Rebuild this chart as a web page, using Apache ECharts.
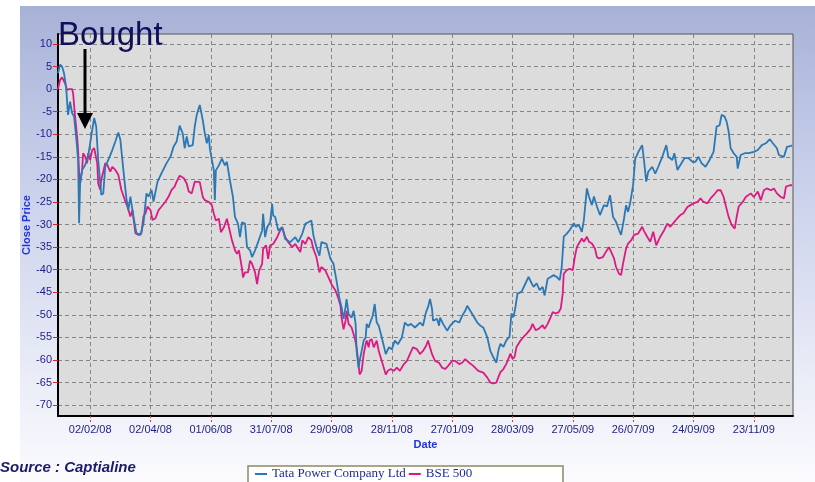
<!DOCTYPE html>
<html>
<head>
<meta charset="utf-8">
<script src="https://cdn.jsdelivr.net/npm/echarts@6/dist/echarts.min.js"></script>
<style>
  html, body { margin: 0; padding: 0; background: #fff; }
  #chart { width: 815px; height: 482px; }
</style>
</head>
<body>
<div id="chart"></div>
<script>
// Tata Power Company Ltd, % change of close price
const tataDates = [
  '2008-01-01','2008-01-03','2008-01-05','2008-01-07','2008-01-09','2008-01-11','2008-01-13','2008-01-15','2008-01-17','2008-01-19',
  '2008-01-21','2008-01-22','2008-01-23','2008-01-25','2008-01-28','2008-01-31','2008-02-03','2008-02-06','2008-02-08','2008-02-10',
  '2008-02-13','2008-02-15','2008-02-17','2008-02-20','2008-02-24','2008-02-27','2008-03-01','2008-03-03','2008-03-06','2008-03-09',
  '2008-03-11','2008-03-13','2008-03-16','2008-03-19','2008-03-23','2008-03-26','2008-03-29','2008-03-31','2008-04-03','2008-04-05',
  '2008-04-09','2008-04-13','2008-04-18','2008-04-22','2008-04-25','2008-04-28','2008-05-01','2008-05-04','2008-05-06','2008-05-08',
  '2008-05-10','2008-05-14','2008-05-16','2008-05-18','2008-05-21','2008-05-24','2008-05-26','2008-05-28','2008-05-30','2008-05-31',
  '2008-06-04','2008-06-05','2008-06-06','2008-06-09','2008-06-12','2008-06-15','2008-06-17','2008-06-20','2008-06-23','2008-06-25',
  '2008-06-28','2008-06-30','2008-07-02','2008-07-05','2008-07-07','2008-07-10','2008-07-12','2008-07-15','2008-07-18','2008-07-22',
  '2008-07-23','2008-07-25','2008-07-27','2008-07-30','2008-08-01','2008-08-02','2008-08-04','2008-08-07','2008-08-11','2008-08-14',
  '2008-08-19','2008-08-24','2008-08-27','2008-08-31','2008-09-03','2008-09-06','2008-09-09','2008-09-11','2008-09-14','2008-09-17',
  '2008-09-19','2008-09-24','2008-09-28','2008-10-01','2008-10-04','2008-10-07','2008-10-09','2008-10-11','2008-10-13','2008-10-14',
  '2008-10-16','2008-10-19','2008-10-21','2008-10-23','2008-10-24','2008-10-26','2008-10-27','2008-10-29','2008-10-31','2008-11-02',
  '2008-11-03','2008-11-05','2008-11-06','2008-11-09','2008-11-11','2008-11-13','2008-11-15','2008-11-18','2008-11-22','2008-11-25',
  '2008-11-28','2008-12-01','2008-12-04','2008-12-08','2008-12-11','2008-12-14','2008-12-17','2008-12-21','2008-12-26','2008-12-29',
  '2009-01-01','2009-01-03','2009-01-05','2009-01-07','2009-01-08','2009-01-12','2009-01-14','2009-01-15','2009-01-18','2009-01-22',
  '2009-01-25','2009-01-30','2009-02-03','2009-02-06','2009-02-09','2009-02-11','2009-02-14','2009-02-17','2009-02-21','2009-02-24',
  '2009-02-27','2009-03-03','2009-03-06','2009-03-09','2009-03-12','2009-03-14','2009-03-16','2009-03-19','2009-03-22','2009-03-25',
  '2009-03-27','2009-03-29','2009-03-31','2009-04-02','2009-04-06','2009-04-10','2009-04-13','2009-04-16','2009-04-18','2009-04-21',
  '2009-04-24','2009-04-27','2009-04-29','2009-05-02','2009-05-05','2009-05-08','2009-05-11','2009-05-14','2009-05-16','2009-05-18',
  '2009-05-21','2009-05-24','2009-05-28','2009-05-30','2009-06-02','2009-06-05','2009-06-07','2009-06-10','2009-06-12','2009-06-15',
  '2009-06-17','2009-06-20','2009-06-23','2009-06-27','2009-06-30','2009-07-03','2009-07-06','2009-07-09','2009-07-12','2009-07-14',
  '2009-07-17','2009-07-19','2009-07-21','2009-07-23','2009-07-26','2009-07-28','2009-07-31','2009-08-04','2009-08-06','2009-08-08',
  '2009-08-10','2009-08-14','2009-08-17','2009-08-20','2009-08-24','2009-08-28','2009-08-30','2009-09-03','2009-09-05','2009-09-08',
  '2009-09-11','2009-09-15','2009-09-19','2009-09-23','2009-09-26','2009-09-29','2009-10-02','2009-10-06','2009-10-10','2009-10-14',
  '2009-10-17','2009-10-20','2009-10-22','2009-10-25','2009-10-27','2009-10-29','2009-10-31','2009-11-03','2009-11-06','2009-11-07',
  '2009-11-10','2009-11-14','2009-11-18','2009-11-23','2009-11-27','2009-12-01','2009-12-05','2009-12-09','2009-12-12','2009-12-16',
  '2009-12-18','2009-12-23','2009-12-26','2009-12-30','2009-12-31'
];
const tataValues = [
  3.5, 5.4, 5.0, 3.5, 0.6, -5.7, -2.8, -5.3, -6.1, -10.5,
  -15.7, -29.7, -20.8, -17.9, -16.8, -14.9, -10.5, -6.4, -8.3, -15.7,
  -23.4, -23.1, -17.2, -15.7, -13.5, -11.6, -9.6, -11.2, -17.9, -24.2,
  -26.8, -23.8, -28.2, -31.9, -32.3, -29.7, -23.1, -23.8, -22.3, -24.9,
  -20.5, -18.6, -16.4, -14.9, -12.7, -11.6, -8.1, -9.8, -13.1, -10.5,
  -12.7, -12.4, -8.3, -5.7, -3.5, -6.9, -9.8, -12.0, -10.2, -13.2,
  -18, -24.6, -18, -16.9, -15.4, -16.9, -16.1, -20.2, -23.9, -28.3,
  -29.8, -32.8, -29.5, -29.8, -35, -35.7, -37.2, -35.7, -33.9, -31.3,
  -27.6, -32.8, -30.6, -29.5, -25.4, -28, -28.3, -31.3, -30.6, -33.2,
  -33.9, -32.8, -33.9, -32, -29.8, -29.5, -29.1, -32.4, -35, -36.9,
  -33.9, -34.3, -37.6, -38.7, -42.4, -46.5, -48.3, -50.9, -48.3, -46.5,
  -49.8, -50.6, -49.1, -52, -58, -61.7, -60.2, -58, -55.7, -55,
  -52, -52.8, -52, -50.2, -47.6, -51.7, -52.4, -55, -58.7, -57.2,
  -57.6, -55.7, -56.5, -55, -51.7, -52.4, -52, -52.8, -51.7, -52.4,
  -49.4, -48.3, -46.5, -48.7, -51.3, -50.9, -52.4, -50.6, -52, -53.5,
  -52.4, -51.3, -51.7, -50.2, -49.1, -48, -49.1, -50.2, -51.7, -52.4,
  -52.8, -55, -58, -59.4, -60.6, -57.9, -56.4, -57.1, -55.6, -54.9,
  -49.7, -50.5, -48.2, -45.3, -44.9, -43, -41.6, -43, -43.8, -43,
  -44.5, -43.8, -45.7, -42, -41.6, -41.2, -41.6, -42.3, -39.4, -32.7,
  -32, -31.2, -29.7, -30.5, -30.1, -31.6, -29, -22, -23.8, -25.7,
  -23.8, -26, -27.9, -25.7, -26, -23.5, -28.3, -29.4, -31.2, -32.3,
  -28.6, -25.7, -27.2, -25.3, -21.2, -15.5, -14, -12.4, -16.1, -20.5,
  -18.3, -17.2, -18.7, -17.2, -15, -12.4, -15, -15.7, -14.2, -17.9,
  -16.8, -15.3, -15.3, -16.1, -16.1, -15, -16.4, -17.2, -15.7, -13.9,
  -8.3, -8, -5.7, -6.1, -7.2, -9.4, -13.1, -14.2, -15, -17.6,
  -14.6, -14.2, -14.2, -13.9, -13.5, -12.4, -12, -11.1, -12, -13.1,
  -14.6, -15, -12.8, -12.6, -12.4
];

// BSE 500
const bseDates = [
  '2008-01-01','2008-01-03','2008-01-05','2008-01-08','2008-01-10','2008-01-12','2008-01-15','2008-01-16','2008-01-18','2008-01-20',
  '2008-01-21','2008-01-22','2008-01-23','2008-01-25','2008-01-26','2008-01-28','2008-01-30','2008-01-31','2008-02-02','2008-02-04',
  '2008-02-06','2008-02-09','2008-02-10','2008-02-12','2008-02-13','2008-02-15','2008-02-17','2008-02-19','2008-02-22','2008-02-24',
  '2008-02-27','2008-03-01','2008-03-04','2008-03-08','2008-03-10','2008-03-13','2008-03-15','2008-03-18','2008-03-21','2008-03-24',
  '2008-03-26','2008-03-28','2008-03-30','2008-04-02','2008-04-04','2008-04-07','2008-04-10','2008-04-13','2008-04-17','2008-04-20',
  '2008-04-23','2008-04-26','2008-04-28','2008-05-01','2008-05-05','2008-05-08','2008-05-10','2008-05-13','2008-05-16','2008-05-21',
  '2008-05-24','2008-05-26','2008-05-30','2008-06-02','2008-06-04','2008-06-06','2008-06-09','2008-06-11','2008-06-14','2008-06-17',
  '2008-06-19','2008-06-22','2008-06-25','2008-06-27','2008-06-29','2008-07-02','2008-07-03','2008-07-05','2008-07-08','2008-07-10',
  '2008-07-12','2008-07-15','2008-07-17','2008-07-19','2008-07-22','2008-07-23','2008-07-26','2008-07-28','2008-07-30','2008-08-02',
  '2008-08-06','2008-08-09','2008-08-11','2008-08-14','2008-08-17','2008-08-21','2008-08-24','2008-08-27','2008-08-29','2008-08-31',
  '2008-09-03','2008-09-06','2008-09-09','2008-09-11','2008-09-14','2008-09-17','2008-09-19','2008-09-23','2008-09-26','2008-09-29',
  '2008-10-03','2008-10-06','2008-10-08','2008-10-09','2008-10-11','2008-10-13','2008-10-14','2008-10-16','2008-10-19','2008-10-22',
  '2008-10-24','2008-10-26','2008-10-27','2008-10-29','2008-10-31','2008-11-02','2008-11-03','2008-11-05','2008-11-06','2008-11-08',
  '2008-11-10','2008-11-13','2008-11-15','2008-11-18','2008-11-22','2008-11-24','2008-11-27','2008-11-30','2008-12-03','2008-12-06',
  '2008-12-10','2008-12-13','2008-12-16','2008-12-19','2008-12-23','2008-12-26','2008-12-29','2009-01-01','2009-01-03','2009-01-07',
  '2009-01-10','2009-01-14','2009-01-17','2009-01-20','2009-01-23','2009-01-27','2009-01-30','2009-02-03','2009-02-06','2009-02-09',
  '2009-02-13','2009-02-17','2009-02-22','2009-02-27','2009-03-03','2009-03-06','2009-03-09','2009-03-12','2009-03-14','2009-03-16',
  '2009-03-19','2009-03-22','2009-03-26','2009-03-28','2009-03-30','2009-04-01','2009-04-05','2009-04-08','2009-04-11','2009-04-15',
  '2009-04-17','2009-04-20','2009-04-23','2009-04-27','2009-04-29','2009-05-02','2009-05-05','2009-05-07','2009-05-10','2009-05-13',
  '2009-05-15','2009-05-17','2009-05-18','2009-05-21','2009-05-24','2009-05-27','2009-05-29','2009-05-31','2009-06-02','2009-06-05',
  '2009-06-07','2009-06-10','2009-06-12','2009-06-15','2009-06-18','2009-06-20','2009-06-22','2009-06-26','2009-06-29','2009-07-02',
  '2009-07-04','2009-07-07','2009-07-09','2009-07-12','2009-07-14','2009-07-16','2009-07-19','2009-07-21','2009-07-24','2009-07-27',
  '2009-07-31','2009-08-04','2009-08-06','2009-08-09','2009-08-12','2009-08-15','2009-08-18','2009-08-22','2009-08-26','2009-08-29',
  '2009-09-01','2009-09-05','2009-09-08','2009-09-11','2009-09-14','2009-09-18','2009-09-21','2009-09-24','2009-09-28','2009-10-01',
  '2009-10-04','2009-10-08','2009-10-11','2009-10-14','2009-10-18','2009-10-21','2009-10-24','2009-10-26','2009-10-29','2009-11-01',
  '2009-11-04','2009-11-06','2009-11-08','2009-11-12','2009-11-15','2009-11-20','2009-11-23','2009-11-27','2009-11-30','2009-12-03',
  '2009-12-06','2009-12-10','2009-12-13','2009-12-16','2009-12-20','2009-12-23','2009-12-25','2009-12-29','2009-12-31'
];
const bseValues = [
  0, 2, 2.6, 1.3, -0.2, 0, 0, -0.9, -6.1, -10.5,
  -13.5, -18.6, -20.9, -17.9, -14.2, -14.9, -16.4, -14.2, -15.7, -13.5,
  -13.1, -16.4, -20.9, -22.3, -20.1, -18.3, -16.4, -16.8, -18.3, -17.2,
  -17.9, -19, -22.3, -24.9, -26, -28.2, -26.8, -31.9, -32.3, -31.9,
  -28.2, -27.5, -26, -26.8, -29, -28.6, -26.8, -26, -24.9, -23.8,
  -22.3, -21.6, -20.5, -19.2, -19.7, -20.9, -22.7, -23.1, -20.5, -20.6,
  -23.9, -24.6, -25, -25.7, -27.6, -29.1, -28.7, -31.7, -30.6, -28.7,
  -30.6, -33.5, -35.7, -36.5, -35.7, -39.8, -41.7, -40.6, -40.6, -38,
  -38.7, -40.6, -43.2, -40.2, -38.7, -35.4, -34.6, -37.6, -34.6, -34.3,
  -32.8, -31.3, -30.6, -32.8, -33.9, -35, -34.3, -35.4, -36.1, -33.5,
  -34.3, -32.8, -33.5, -35.4, -37.2, -40.6, -39.4, -40.2, -41.7, -43.2,
  -44.6, -46.5, -48, -50.6, -53.2, -51.3, -49.1, -52, -52.8, -55,
  -57.2, -61.3, -63.2, -62.4, -58.7, -56.5, -55.7, -57.2, -55.7, -55.4,
  -57.2, -55.7, -58, -60.2, -63.2, -62.4, -62, -62.4, -61.7, -62.4,
  -60.9, -60.2, -58.7, -57.2, -57.6, -58.7, -58, -56.9, -55.7, -58.7,
  -60.2, -60.6, -61.7, -62, -61.3, -60.2, -60.2, -60.9, -60.6, -59.8,
  -60.6, -61.3, -62.4, -62.8, -63.9, -65, -65.2, -65, -63.8, -62.7,
  -62, -60.8, -58.6, -59.7, -59.4, -57.1, -55.7, -54.9, -54.2, -53.1,
  -52, -53.4, -53.1, -52.3, -53.1, -52, -50.5, -49.4, -49.7, -49.4,
  -48.6, -45.3, -40.9, -40.1, -39.8, -40.1, -37.2, -35, -34.2, -33.1,
  -33.8, -32.7, -33.8, -34.2, -35.3, -37.2, -37.5, -37.2, -36, -35,
  -36, -37.5, -39.4, -40.9, -41.2, -38.6, -35.3, -34.2, -33.5, -32.3,
  -32, -30.5, -31.5, -32.7, -33.8, -31.6, -34.6, -32.7, -31.2, -29.8,
  -30.5, -29.4, -28.6, -27.9, -27.5, -26.1, -25.7, -25.3, -25, -24.2,
  -25, -25.3, -24.2, -23.5, -22.4, -22.4, -23.9, -25.7, -28.3, -30.1,
  -30.9, -28.3, -26, -25, -23.9, -23.1, -23.9, -22.7, -24.6, -22.4,
  -22, -22.4, -22, -23.1, -23.9, -24.2, -21.6, -21.3, -21.3
];

// axis ticks
const dateTicks = ['2008-02-02', '2008-04-02', '2008-06-01', '2008-07-31', '2008-09-29', '2008-11-28',
  '2009-01-27', '2009-03-28', '2009-05-27', '2009-07-26', '2009-09-24', '2009-11-23'];
const priceTicks = [-70, -65, -60, -55, -50, -45, -40, -35, -30, -25, -20, -15, -10, -5, 0, 5, 10];

const seriesNames = ['Tata Power Company Ltd', 'BSE 500'];
const seriesColors = ['#2a78b6', '#dc1a84'];

const ts = s => +echarts.time.parse(s);
const dateTickValues = dateTicks.map(ts);

const chart = echarts.init(document.getElementById('chart'));

const dashed = { color: '#858585', width: 1, type: [4, 3] };
const labelFont = 'Liberation Sans, Arial, sans-serif';

chart.setOption({
  animation: false,
  backgroundColor: '#ffffff',
  graphic: [
    {
      type: 'rect', z: -10, silent: true,
      shape: { x: 20, y: 6, width: 795, height: 476 },
      style: {
        fill: new echarts.graphic.LinearGradient(0, 0, 0, 1, [
          { offset: 0, color: '#a7b2d7' },
          { offset: 0.3, color: '#c3cbe8' },
          { offset: 0.8, color: '#eceef8' },
          { offset: 1, color: '#fbfbfe' }
        ])
      }
    },
    {
      type: 'rect', z: 1, silent: true,
      shape: { x: 248, y: 466, width: 315, height: 24 },
      style: { fill: '#ffffff', stroke: '#8b8b62', lineWidth: 1.5 }
    },
    {
      type: 'text', z: 20, left: 58, top: 19,
      style: { text: 'Bought', font: '33px Liberation Sans, Arial, sans-serif', fill: '#0f0f5c' }
    },
    {
      type: 'line', z: 20, silent: true,
      shape: { x1: 85, y1: 49, x2: 85, y2: 116 },
      style: { stroke: '#000', lineWidth: 3 }
    },
    {
      type: 'polygon', z: 20, silent: true,
      shape: { points: [[77, 113], [93, 113], [85, 129]] },
      style: { fill: '#000' }
    },
    {
      type: 'text', z: 20, left: 0, top: 460,
      style: { text: 'Source : Captialine', font: 'italic bold 15px Liberation Sans, Arial, sans-serif', fill: '#1b1b6a' }
    }
  ],
  grid: {
    left: 58, right: 22, top: 34, bottom: 66,
    outerBoundsMode: 'none',
    show: true,
    backgroundColor: '#dcdcdc',
    borderColor: '#555555',
    borderWidth: 1
  },
  legend: {
    data: seriesNames.map(n => ({ name: n, icon: 'rect' })),
    left: 255, top: 467,
    padding: 0,
    itemWidth: 12, itemHeight: 2, itemGap: 3,
    textStyle: { fontFamily: 'Liberation Serif, Times New Roman, serif', fontSize: 13, color: '#1e2d9c', lineHeight: 14 }
  },
  xAxis: {
    type: 'value',
    min: ts('2008-01-01'),
    max: ts('2010-01-01'),
    name: 'Date',
    nameLocation: 'middle',
    nameGap: 18,
    nameTextStyle: { color: '#1f33e0', fontWeight: 'bold', fontSize: 11, fontFamily: labelFont },
    axisLine: { onZero: false, lineStyle: { color: '#000', width: 2 } },
    axisTick: { show: true, customValues: dateTickValues, length: 6, lineStyle: { color: '#e23a3a', type: [2, 2] } },
    axisLabel: {
      customValues: dateTickValues,
      hideOverlap: false,
      margin: 8,
      color: '#1d1d85', fontSize: 11, fontFamily: labelFont,
      formatter: v => echarts.time.format(v, '{dd}/{MM}/{yy}', false)
    },
    splitLine: { show: true, customValues: dateTickValues, lineStyle: dashed }
  },
  yAxis: {
    type: 'value',
    min: -72.4,
    max: 12.2,
    name: 'Close Price',
    nameLocation: 'middle',
    nameGap: 26,
    nameMoveOverlap: false,
    nameTextStyle: { color: '#1f33e0', fontWeight: 'bold', fontSize: 11, fontFamily: labelFont },
    axisLine: { show: true, lineStyle: { color: '#000', width: 2 } },
    axisTick: { show: true, customValues: priceTicks, length: 5, lineStyle: { color: '#e02020' } },
    axisLabel: { customValues: priceTicks, margin: 6, color: '#1d1d85', fontSize: 11, fontFamily: labelFont },
    splitLine: { show: true, customValues: priceTicks, lineStyle: dashed }
  },
  series: [
    {
      name: seriesNames[0], type: 'line', symbol: 'none', z: 3,
      lineStyle: { color: seriesColors[0], width: 1.8 },
      itemStyle: { color: seriesColors[0] },
      data: tataDates.map((d, i) => [ts(d), tataValues[i]])
    },
    {
      name: seriesNames[1], type: 'line', symbol: 'none', z: 2,
      lineStyle: { color: seriesColors[1], width: 1.8 },
      itemStyle: { color: seriesColors[1] },
      data: bseDates.map((d, i) => [ts(d), bseValues[i]])
    }
  ]
});
</script>
</body>
</html>
